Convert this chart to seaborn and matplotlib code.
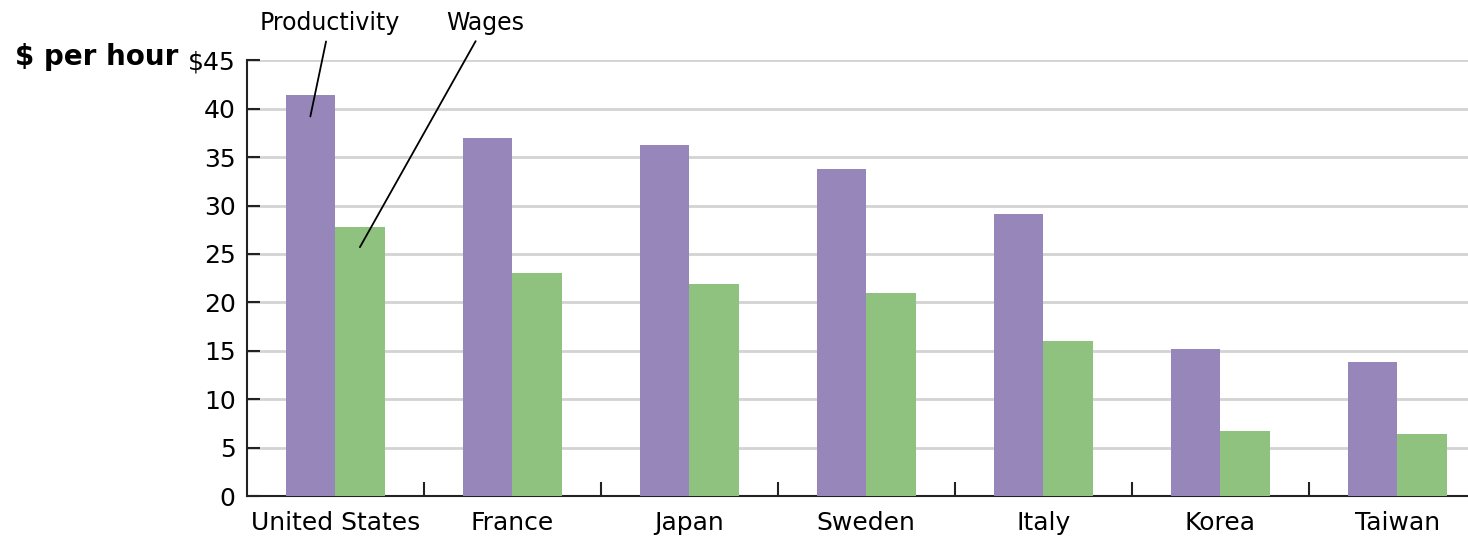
import matplotlib
matplotlib.use("Agg")
import matplotlib.pyplot as plt
import pandas as pd
import seaborn as sns

countries = ["United States", "France", "Japan", "Sweden", "Italy", "Korea", "Taiwan"]
productivity = [41.4, 37.0, 36.2, 33.8, 29.1, 15.2, 13.8]
wages = [27.8, 23.0, 21.9, 21.0, 16.0, 6.7, 6.4]
yticks = [0, 5, 10, 15, 20, 25, 30, 35, 40, 45]
ytick_labels = ["0", "5", "10", "15", "20", "25", "30", "35", "40", "$45"]

df = pd.DataFrame({
    "Country": countries * 2,
    "Value": productivity + wages,
    "Series": ["Productivity"] * len(countries) + ["Wages"] * len(countries),
})

sns.set_style("white")
plt.rcParams["font.family"] = ["DejaVu Sans"]
plt.rcParams["text.color"] = "black"
plt.rcParams["xtick.color"] = "black"
plt.rcParams["ytick.color"] = "black"

fig = plt.figure(figsize=(14.68, 5.38), dpi=100)
ax = fig.add_axes([0.168, 0.078, 0.832, 0.81])

sns.barplot(data=df, x="Country", y="Value", hue="Series",
            palette=["#9786b9", "#8fc17f"], width=0.56, gap=0,
            saturation=1, ax=ax, legend=False, zorder=3, linewidth=0)

ax.set_ylim(0, 45)
ax.set_xlim(-0.5, 6.4)
ax.set_yticks(yticks)
ax.set_yticklabels(ytick_labels)
ax.yaxis.grid(True, color="#d3d3d3", linewidth=2, zorder=0)
ax.set_axisbelow(True)
ax.set_xlabel("")
ax.set_ylabel("")

for side in ["top", "right"]:
    ax.spines[side].set_visible(False)
for side in ["left", "bottom"]:
    ax.spines[side].set_color("#222222")
    ax.spines[side].set_linewidth(1.5)

ax.tick_params(axis="y", left=True, direction="in", length=9, width=1.5,
               color="#222222", labelsize=18, pad=8)
ax.tick_params(axis="x", which="major", bottom=True, length=0, labelsize=18, pad=11)
# separator ticks between countries
ax.set_xticks([i + 0.5 for i in range(len(countries) - 1)], minor=True)
ax.tick_params(axis="x", which="minor", bottom=True, direction="in", length=10,
               width=1.5, color="#222222")

fig.text(0.01, 0.894, "$ per hour", fontsize=20, fontweight="bold",
         ha="left", va="center")

ax.annotate("Productivity", xy=(-0.14, 39.2), xytext=(-0.03, 48.8),
            ha="center", va="center", fontsize=17, annotation_clip=False,
            arrowprops=dict(arrowstyle="-", color="black", lw=1.3, shrinkA=2, shrinkB=0))
ax.annotate("Wages", xy=(0.14, 25.7), xytext=(0.85, 48.8),
            ha="center", va="center", fontsize=17, annotation_clip=False,
            arrowprops=dict(arrowstyle="-", color="black", lw=1.3, shrinkA=2, shrinkB=0))

fig.savefig("out.png", dpi=100)
